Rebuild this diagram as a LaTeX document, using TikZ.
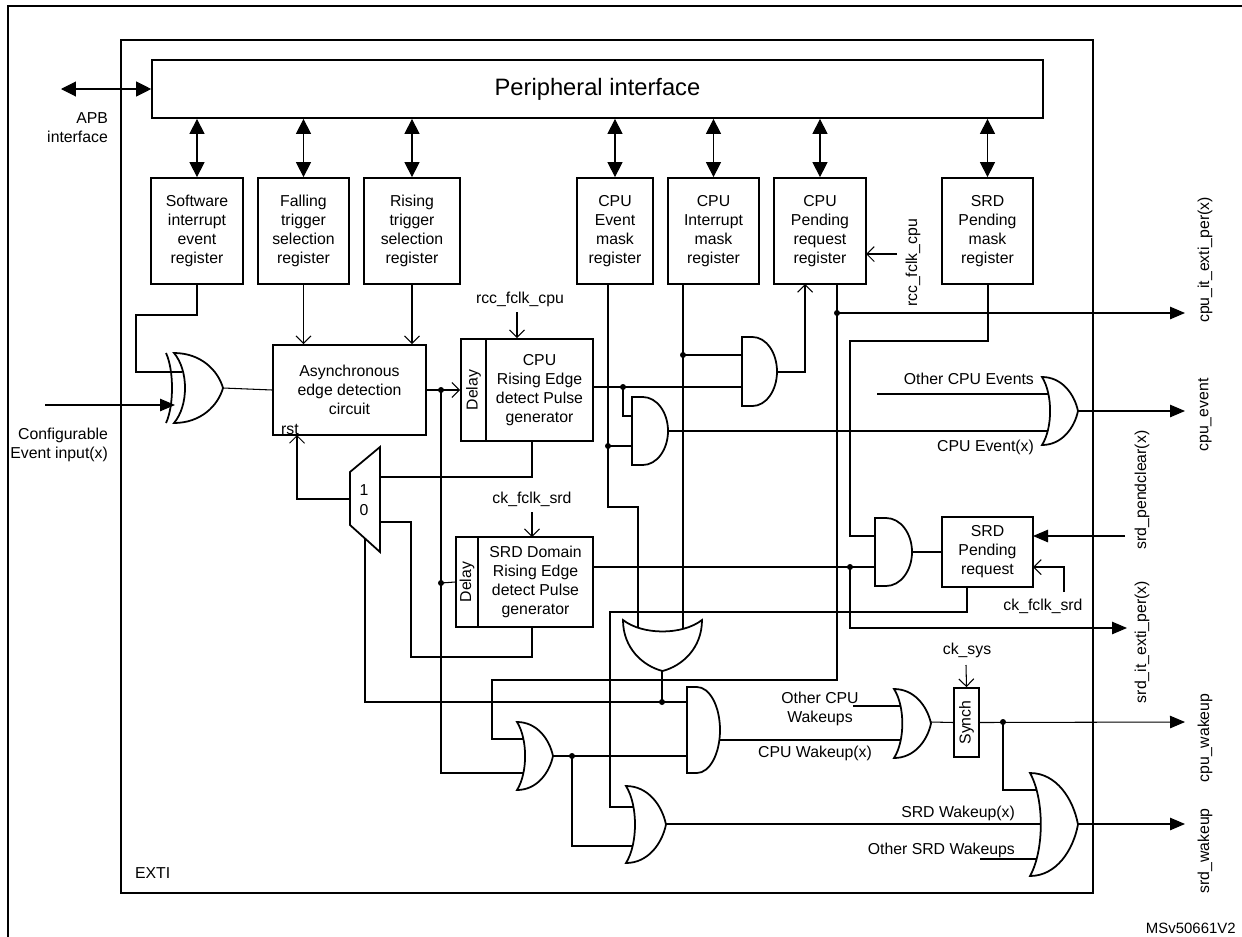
\documentclass[tikz,border=0pt]{standalone}
\usepackage{fontspec}
\setmainfont{Liberation Sans}
\usetikzlibrary{arrows.meta}
\tikzset{
  box/.style={draw, line width=1pt, inner sep=0pt, align=center, font=\fontsize{9}{10.8}\selectfont},
  gate/.style={draw, fill=white, line width=1pt},
  wire/.style={line width=0.6pt},
  dbl/.style={line width=0.6pt, {Triangle[length=0.3cm,width=0.3cm]}-{Triangle[length=0.3cm,width=0.3cm]}},
  farr/.style={line width=0.6pt, -{Triangle[length=0.3cm,width=0.25cm]}},
  oarr/.style={line width=0.6pt, -{Straight Barb[length=0.15cm,width=0.3cm]}},
  lbl/.style={inner sep=1pt, font=\fontsize{9}{10.8}\selectfont, align=center},
  vlbl/.style={inner sep=1pt, rotate=90, font=\fontsize{9}{10.8}\selectfont}
}
% gates: left, top, right, bottom (pixel units, y down)
\newcommand\andgate[4]{\draw[gate] (#1,#2) -- ({#1+0.3*(#3-#1)},#2) arc[start angle=-90,end angle=90,x radius={0.7*(#3-#1)},y radius={(#4-#2)/2}] -- (#1,#4) -- cycle;}
\newcommand\orgate[4]{\draw[gate] (#1,#2) .. controls ({#1+0.55*(#3-#1)},#2) and ({#1+0.9*(#3-#1)},{#2+0.25*(#4-#2)}) .. (#3,{(#2+#4)/2}) .. controls ({#1+0.9*(#3-#1)},{#4-0.25*(#4-#2)}) and ({#1+0.55*(#3-#1)},#4) .. (#1,#4) .. controls ({#1+0.3*(#3-#1)},{#4-0.25*(#4-#2)}) and ({#1+0.3*(#3-#1)},{#2+0.25*(#4-#2)}) .. cycle;}
\newcommand\orgatedown[4]{\draw[gate] (#1,#2) .. controls (#1,{#2+0.55*(#4-#2)}) and ({#1+0.25*(#3-#1)},{#2+0.9*(#4-#2)}) .. ({(#1+#3)/2},#4) .. controls ({#3-0.25*(#3-#1)},{#2+0.9*(#4-#2)}) and (#3,{#2+0.55*(#4-#2)}) .. (#3,#2) .. controls ({#3-0.25*(#3-#1)},{#2+0.3*(#4-#2)}) and ({#1+0.25*(#3-#1)},{#2+0.3*(#4-#2)}) .. cycle;}
\newcommand\dotat[2]{\fill (#1,#2) circle[radius=3];}
\begin{document}
\begin{tikzpicture}[x=0.02cm, y=-0.02cm]
\useasboundingbox (0,0) rectangle (1242,937);
%frames
\draw[line width=1.4pt] (8,6) rectangle (1260,960);
\draw[line width=1pt] (121,40) rectangle (1093,893);
\node[anchor=west, lbl] at (133,873) {EXTI};
\node[anchor=east, inner sep=0pt, font=\fontsize{8.5}{10}\selectfont] at (1236,928) {MSv50661V2};
%peripheral interface and registers
\node[box, minimum width=17.82cm, minimum height=1.16cm, font=\fontsize{13.5}{16}\selectfont] (per) at (597.5,89) {Peripheral interface};
\node[box, minimum width=1.84cm, minimum height=2.12cm] (sw) at (197,231) {Software\\interrupt\\event\\register};
\node[box, minimum width=1.82cm, minimum height=2.12cm] (fall) at (303.5,231) {Falling\\trigger\\selection\\register};
\node[box, minimum width=1.92cm, minimum height=2.12cm] (rise) at (412,231) {Rising\\trigger\\selection\\register};
\node[box, minimum width=1.52cm, minimum height=2.12cm] (cev) at (615,231) {CPU\\Event\\mask\\register};
\node[box, minimum width=1.82cm, minimum height=2.12cm] (cint) at (713.5,231) {CPU\\Interrupt\\mask\\register};
\node[box, minimum width=1.84cm, minimum height=2.12cm] (cpend) at (820,231) {CPU\\Pending\\request\\register};
\node[box, minimum width=1.82cm, minimum height=2.12cm] (smask) at (987.5,231) {SRD\\Pending\\mask\\register};
\foreach \r in {sw,fall,rise,cev,cint,cpend,smask}
  \draw[dbl] (\r.north |- per.south) -- (\r.north);
\coordinate (apb) at (61,89);
\draw[dbl] (apb) -- (per.west);
\node[anchor=east, lbl, align=right] at (110,128) {APB\\interface};
\node[anchor=east, lbl, align=right] at (110,445) {Configurable\\Event input(x)};
%blocks
\node[box, minimum width=3.06cm, minimum height=1.8cm] (async) at (349.5,390) {Asynchronous\\edge detection\\circuit};
\node[lbl, anchor=south west] at (279,437) {rst};
\node[box, minimum width=0.5cm, minimum height=2.04cm] (cpud) at (473.5,390) {\rotatebox{90}{Delay}};
\node[box, minimum width=2.14cm, minimum height=2.04cm] (cpul) at (539.5,390) {CPU\\Rising Edge\\detect Pulse\\generator};
\node[box, minimum width=0.44cm, minimum height=1.8cm] (srdd) at (467,582) {\rotatebox{90}{Delay}};
\node[box, minimum width=2.3cm, minimum height=1.8cm] (srdl) at (535.5,582) {SRD Domain\\Rising Edge\\detect Pulse\\generator};
\node[box, minimum width=1.82cm, minimum height=1.4cm] (srdreq) at (987.5,552) {SRD\\Pending\\request};
\node[box, minimum width=0.5cm, minimum height=1.38cm] (synch) at (966.5,722.5) {\rotatebox{90}{Synch}};
\draw[line width=1pt] (350,472) -- (380,447) -- (380,552) -- (350,525) -- cycle;
\node[lbl] at (364,490) {1};
\node[lbl] at (364,510) {0};
%clock labels
\node[lbl] at (520,299) {rcc\_fclk\_cpu};
\draw[oarr] (517,312) -- (cpul.north -| 517,0);
\node[lbl] at (532,499) {ck\_fclk\_srd};
\draw[oarr] (532,512) -- (532,537);
\node[vlbl] at (913,263) {rcc\_fclk\_cpu};
\draw[oarr] (897,254) -- (866,254);
\node[lbl] at (1043,606) {ck\_fclk\_srd};
\draw[oarr] (1064,592) -- (1064,567) -- (1033,567);
\node[lbl] at (967,650) {ck\_sys};
\draw[oarr] (966,665) -- (synch.north);
%input side
\draw[wire] (sw.south) -- (197,315) -- (136,315) -- (136,372) -- (182,372);
\draw[wire] (223,388) -- (async.west);
\draw[oarr] (fall.south) -- (fall.south |- async.north);
\draw[oarr] (rise.south) -- (rise.south |- async.north);
\draw[oarr] (async.east) -- (cpud.west);
\dotat{441}{390}
\draw[wire] (441,390) -- (441,773) -- (527,773);
\dotat{441}{583}
\draw[wire] (441,583) -- (srdd.west);
%mux loops
\draw[wire] (532,441) -- (532,477) -- (380,477);
\draw[oarr] (350,499) -- (297,499) -- (297,435);
\draw[wire] (380,522) -- (411,522) -- (411,657) -- (532,657) -- (532,627);
\draw[wire] (365,538) -- (365,702) -- (687,702);
\dotat{662}{702}
\draw[wire] (662,665) -- (662,702);
%cpu side
\draw[wire] (593,387) -- (742,387);
\dotat{623}{387}
\draw[wire] (623,387) -- (623,416) -- (632,416);
\draw[wire] (608,284) -- (608,507) -- (638,507) -- (638,635);
\dotat{608}{446}
\draw[wire] (608,446) -- (632,446);
\draw[wire] (683,284) -- (683,635);
\dotat{683}{355}
\draw[wire] (683,355) -- (742,355);
\draw[oarr] (777,372) -- (805,372) -- (805,284);
\draw[wire] (668,431) -- (1052,431);
\draw[wire] (877,394) -- (1052,394);
\node[lbl, anchor=east] at (1036,379) {Other CPU Events};
\node[lbl, anchor=east] at (1036,447) {CPU Event(x)};
\draw[farr] (1070,411) -- (1185,411);
\draw[wire] (837,284) -- (837,680) -- (492,680) -- (492,739) -- (527,739);
\dotat{837}{313}
\draw[farr] (837,313) -- (1185,313);
%srd side
\draw[wire] (988,284) -- (988,341) -- (850,341) -- (850,536) -- (875,536);
\draw[wire] (593,567) -- (875,567);
\dotat{850}{567}
\draw[farr] (850,567) -- (850,628) -- (1127,628);
\draw[wire] (912,552) -- (srdreq.west);
\draw[farr] (1125,536) -- (1033,536);
\draw[wire] (967,587) -- (967,612) -- (610,612) -- (610,807) -- (636,807);
%wakeups
\draw[wire] (553,756) -- (687,756);
\dotat{572}{756}
\draw[wire] (572,756) -- (572,846) -- (636,846);
\draw[wire] (720,740) -- (902,740);
\draw[wire] (853,706) -- (902,706);
\node[lbl] at (820,709) {Other CPU\\Wakeups};
\node[lbl] at (815,753) {CPU Wakeup(x)};
\draw[wire] (931,722) -- (synch.west);
\draw[farr] (synch.east) -- (1185,722);
\dotat{1003}{722}
\draw[wire] (1003,722) -- (1003,790) -- (1040,790);
\draw[wire] (666,824) -- (1042,824);
\node[lbl, anchor=south east] at (1017,823) {SRD Wakeup(x)};
\draw[wire] (980,859) -- (1040,859);
\node[lbl, anchor=east] at (1017,850) {Other SRD Wakeups};
\draw[farr] (1078,824) -- (1185,824);
%gates
\orgate{174}{353}{223}{423}
\draw[line width=1pt] (166,353) .. controls (174,370) and (174,406) .. (166,423);
\draw[farr] (45,405) -- (175,405);
\andgate{742}{337}{777}{406}
\andgate{632}{397}{668}{465}
\orgate{1042}{377}{1078}{445}
\andgate{875}{518}{912}{586}
\orgatedown{623}{620}{702}{671}
\orgate{517}{722}{553}{790}
\andgate{687}{687}{720}{773}
\orgate{894}{689}{931}{758}
\orgate{626}{786}{666}{863}
\orgate{1030}{773}{1078}{876}
%outputs
\node[vlbl] at (1205,260) {cpu\_it\_exti\_per(x)};
\node[vlbl] at (1205,415) {cpu\_event};
\node[vlbl] at (1142,490) {srd\_pendclear(x)};
\node[vlbl] at (1142,642) {srd\_it\_exti\_per(x)};
\node[vlbl] at (1205,738) {cpu\_wakeup};
\node[vlbl] at (1205,851) {srd\_wakeup};
\end{tikzpicture}
\end{document}
